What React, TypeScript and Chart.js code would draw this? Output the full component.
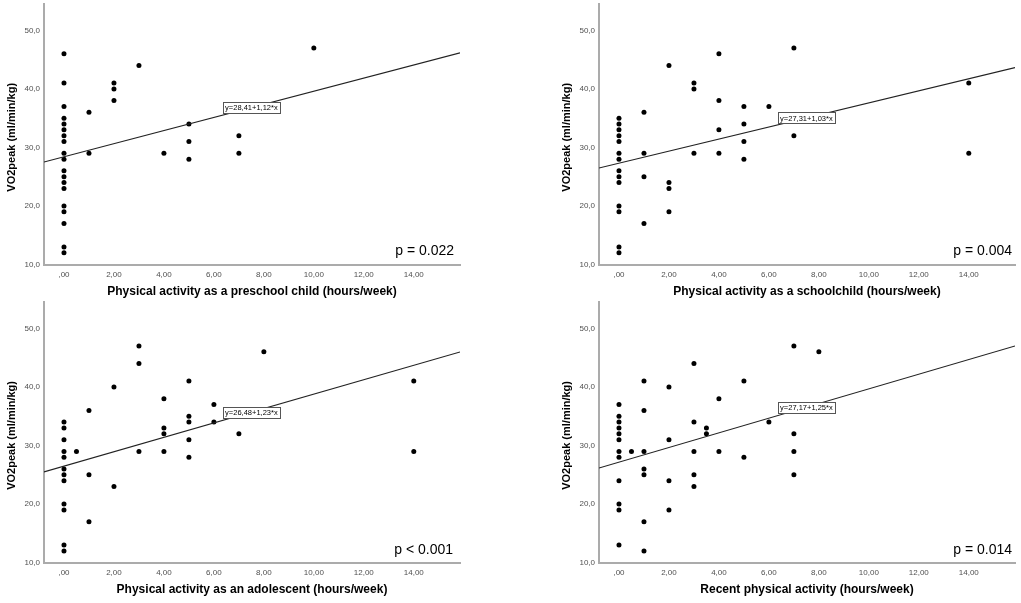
import React, { useEffect, useRef } from "react";
import { Chart, registerables } from "chart.js";

Chart.register(...registerables);

// ---------- data ----------
const xTickLabels = [",00", "2,00", "4,00", "6,00", "8,00", "10,00", "12,00", "14,00"];
const yTickLabels = ["10,0", "20,0", "30,0", "40,0", "50,0"];
const xTickValues = [0, 2, 4, 6, 8, 10, 12, 14];
const yTickValues = [10, 20, 30, 40, 50];

const X_MIN = -0.8;
const X_MAX = 15.85;
const Y_MIN = 10;
const Y_MAX = 54.5;
const EQUATION_X = 7.5;

const preschoolX = [
  0, 0, 0, 0, 0, 0, 0, 0, 0, 0, 0, 0, 0, 0, 0, 0, 0, 0, 0,
  1, 1, 2, 2, 2, 3, 4, 5, 5, 5, 7, 7, 10,
];
const preschoolY = [
  46, 41, 37, 35, 34, 33, 32, 31, 29, 28, 26, 25, 24, 23, 20, 19, 17, 13, 12,
  36, 29, 41, 40, 38, 44, 29, 34, 31, 28, 32, 29, 47,
];

const schoolX = [
  0, 0, 0, 0, 0, 0, 0, 0, 0, 0, 0, 0, 0, 0,
  1, 1, 1, 1, 2, 2, 2, 2, 3, 3, 3, 4, 4, 4, 4, 5, 5, 5, 5, 6, 7, 7, 14, 14,
];
const schoolY = [
  35, 34, 33, 32, 31, 29, 28, 26, 25, 24, 20, 19, 13, 12,
  36, 29, 25, 17, 44, 24, 23, 19, 41, 40, 29, 46, 38, 33, 29, 37, 34, 31, 28, 37, 47, 32, 41, 29,
];

const adolescentX = [
  0, 0, 0, 0, 0, 0, 0, 0, 0, 0, 0, 0,
  0.5, 1, 1, 1, 2, 2, 3, 3, 3, 4, 4, 4, 4, 5, 5, 5, 5, 5, 6, 6, 7, 8, 14, 14,
];
const adolescentY = [
  34, 33, 31, 29, 28, 26, 25, 24, 20, 19, 13, 12,
  29, 36, 25, 17, 40, 23, 47, 44, 29, 38, 33, 32, 29, 41, 35, 34, 31, 28, 37, 34, 32, 46, 41, 29,
];

const recentX = [
  0, 0, 0, 0, 0, 0, 0, 0, 0, 0, 0, 0,
  0.5, 1, 1, 1, 1, 1, 1, 1, 2, 2, 2, 2, 3, 3, 3, 3, 3, 3.5, 3.5, 4, 4, 5, 5, 6, 7, 7, 7, 7, 8,
];
const recentY = [
  37, 35, 34, 33, 32, 31, 29, 28, 24, 20, 19, 13,
  29, 41, 36, 29, 26, 25, 17, 12, 40, 31, 24, 19, 44, 34, 29, 25, 23, 33, 32, 38, 29, 41, 28, 34, 47, 32, 29, 25, 46,
];

const intercepts = [28.41, 27.31, 26.48, 27.17];
const slopes = [1.12, 1.03, 1.23, 1.25];
const equationLabels = ["y=28,41+1,12*x", "y=27,31+1,03*x", "y=26,48+1,23*x", "y=27,17+1,25*x"];
const pLabels = ["p = 0.022", "p = 0.004", "p < 0.001", "p = 0.014"];
const xTitles = [
  "Physical activity as a preschool child (hours/week)",
  "Physical activity as a schoolchild (hours/week)",
  "Physical activity as an adolescent (hours/week)",
  "Recent physical activity (hours/week)",
];
const yTitle = "VO2peak (ml/min/kg)";

const seriesX = [preschoolX, schoolX, adolescentX, recentX];
const seriesY = [preschoolY, schoolY, adolescentY, recentY];

// ---------- layout (positions only) ----------
const FONT = '"Liberation Sans", Arial, sans-serif';
const CANVAS_W = 466;
const CANVAS_H = 300;
const Y_AXIS_W = 44;
const boxes = [
  { left: 0, top: 0, padTop: 2.5, xAxisH: 35.5, pRight: 6 },
  { left: 555, top: 0, padTop: 2.5, xAxisH: 35.5, pRight: 3 },
  { left: 0, top: 298, padTop: 2, xAxisH: 35.3, pRight: 7 },
  { left: 555, top: 298, padTop: 2, xAxisH: 35.3, pRight: 3 },
];

function Panel({ idx }: { idx: number }) {
  const ref = useRef<HTMLCanvasElement>(null);
  const box = boxes[idx];

  useEffect(() => {
    const canvas = ref.current;
    if (!canvas) return;
    const xs = seriesX[idx];
    const ys = seriesY[idx];
    const points = xs.map((x, i) => ({ x, y: ys[i] }));
    const a = intercepts[idx];
    const b = slopes[idx];
    const lineData = [X_MIN, X_MAX].map((x) => ({ x, y: a + b * x }));

    const labelPlugin = {
      id: "labels" + idx,
      afterDatasetsDraw(chart: any) {
        const { ctx, chartArea, scales } = chart;
        const lx = scales.x.getPixelForValue(EQUATION_X);
        const ly = scales.y.getPixelForValue(a + b * EQUATION_X);
        ctx.save();
        ctx.font = `7.5px ${FONT}`;
        const text = equationLabels[idx];
        const w = Math.round(ctx.measureText(text).width + 4);
        const h = 11;
        const bx = Math.round(lx - w / 2) + 0.5;
        const by = Math.round(ly - h / 2) + 0.5;
        ctx.fillStyle = "#ffffff";
        ctx.fillRect(bx, by, w, h);
        ctx.strokeStyle = "#555555";
        ctx.lineWidth = 1;
        ctx.strokeRect(bx, by, w, h);
        ctx.fillStyle = "#000000";
        ctx.textAlign = "center";
        ctx.textBaseline = "middle";
        ctx.fillText(text, lx, ly + 0.5);

        ctx.font = `14px ${FONT}`;
        ctx.textAlign = "right";
        ctx.textBaseline = "middle";
        ctx.fillText(pLabels[idx], chartArea.right - box.pRight, chartArea.bottom - 13);
        ctx.restore();
      },
    };

    const chart = new Chart(canvas, {
      type: "scatter",
      data: {
        datasets: [
          {
            type: "line",
            data: lineData,
            showLine: true,
            borderColor: "#222222",
            borderWidth: 1.1,
            pointRadius: 0,
            fill: false,
          } as any,
          {
            type: "scatter",
            data: points,
            backgroundColor: "#000000",
            borderColor: "#000000",
            pointRadius: 2.5,
            borderWidth: 0,
          },
        ],
      },
      options: {
        animation: false,
        responsive: false,
        devicePixelRatio: 1,
        layout: { padding: { left: 0, top: box.padTop, right: CANVAS_W - Y_AXIS_W - 416, bottom: 0 } },
        plugins: {
          legend: { display: false },
          tooltip: { enabled: false },
          title: { display: false },
        },
        scales: {
          x: {
            type: "linear",
            min: X_MIN,
            max: X_MAX,
            grid: { display: false, drawTicks: false },
            border: { display: true, color: "#ababab", width: 2 },
            afterFit: (scale: any) => {
              scale.height = box.xAxisH;
              scale.paddingLeft = 0;
              scale.paddingRight = 0;
            },
            afterBuildTicks: (scale: any) => {
              scale.ticks = xTickValues.map((v) => ({ value: v }));
            },
            ticks: {
              padding: 5,
              maxRotation: 0,
              autoSkip: false,
              color: "#505050",
              font: { family: FONT, size: 8 },
              callback: (v: any) => {
                const i = xTickValues.indexOf(Number(v));
                return i >= 0 ? xTickLabels[i] : "";
              },
            },
            title: {
              display: true,
              text: xTitles[idx],
              color: "#000000",
              font: { family: FONT, size: 12, weight: "bold" },
              padding: { top: 0, bottom: 0.8 },
            },
          },
          y: {
            type: "linear",
            min: Y_MIN,
            max: Y_MAX,
            grid: { display: false, drawTicks: false },
            border: { display: true, color: "#ababab", width: 2 },
            afterFit: (scale: any) => {
              scale.width = Y_AXIS_W;
              scale.paddingTop = 0;
              scale.paddingBottom = 0;
            },
            afterBuildTicks: (scale: any) => {
              scale.ticks = yTickValues.map((v) => ({ value: v }));
            },
            ticks: {
              padding: 4,
              color: "#505050",
              font: { family: FONT, size: 8 },
              callback: (v: any) => {
                const i = yTickValues.indexOf(Number(v));
                return i >= 0 ? yTickLabels[i] : "";
              },
            },
            title: {
              display: true,
              text: yTitle + "  ",
              color: "#000000",
              font: { family: FONT, size: 11, weight: "bold" },
              padding: { top: 5.5, bottom: 0 },
            },
          },
        },
      },
      plugins: [labelPlugin],
    });
    return () => chart.destroy();
  }, [idx]);

  return (
    <canvas
      ref={ref}
      width={CANVAS_W}
      height={CANVAS_H}
      style={{ position: "absolute", left: box.left, top: box.top, width: CANVAS_W, height: CANVAS_H }}
    />
  );
}

export default function App() {
  return (
    <div style={{ position: "absolute", left: 0, top: 0, width: 1021, height: 603, background: "#ffffff", overflow: "hidden" }}>
      {[0, 1, 2, 3].map((i) => (
        <Panel key={i} idx={i} />
      ))}
    </div>
  );
}
